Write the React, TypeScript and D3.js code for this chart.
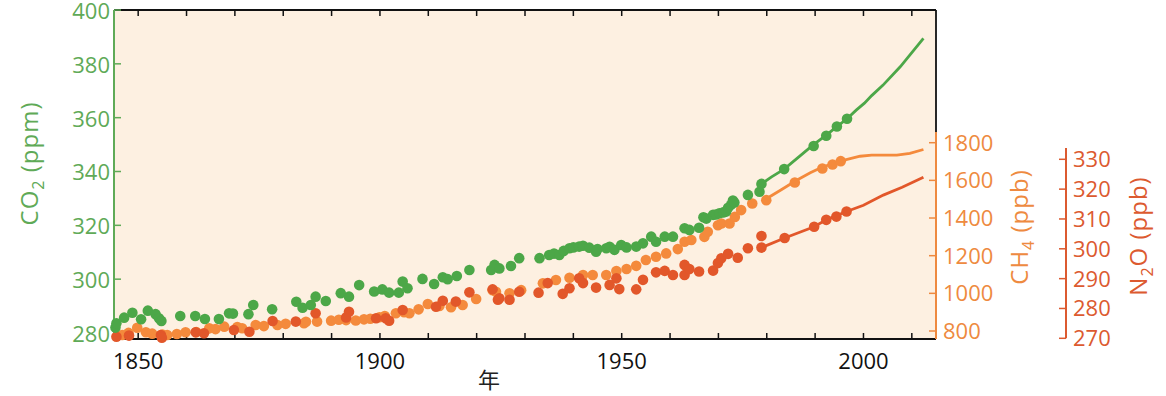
import * as React from "react";
import * as d3 from "d3";

// ice core / firn samples: [year, value]
const co2Ice: [number, number][] = [
  [1845.3, 282.0], [1845.5, 283.6], [1847.1, 285.7], [1848.8, 287.5], [1850.6, 285.1],
  [1852.0, 288.3], [1853.6, 287.0], [1854.3, 285.5], [1854.8, 284.5], [1858.7, 286.3],
  [1861.8, 286.3], [1863.8, 285.2], [1866.7, 285.2], [1868.8, 287.3], [1869.6, 287.2],
  [1872.8, 287.0], [1873.8, 290.4], [1877.7, 288.8], [1882.7, 291.6], [1884.0, 289.4],
  [1885.7, 290.4], [1886.7, 293.5], [1888.8, 291.9], [1891.9, 294.8], [1893.6, 293.5],
  [1895.7, 297.8], [1898.8, 295.4], [1900.5, 296.2], [1901.9, 295.0], [1903.9, 295.0],
  [1904.7, 299.1], [1905.7, 296.6], [1908.8, 300.1], [1911.2, 298.2], [1913.0, 300.7],
  [1914.0, 300.0], [1915.9, 301.2], [1918.5, 303.4], [1923.0, 303.4], [1923.7, 305.3],
  [1924.7, 304.0], [1927.1, 304.9], [1928.8, 307.8], [1933.0, 307.8], [1935.0, 309.0],
  [1936.0, 309.5], [1937.1, 309.0], [1938.0, 310.5], [1939.2, 311.5], [1940.0, 311.8],
  [1941.2, 312.1], [1942.0, 312.4], [1943.3, 311.7], [1944.7, 310.2], [1945.0, 311.2],
  [1946.8, 311.5], [1947.5, 312.0], [1948.5, 310.9], [1949.9, 312.7], [1951.0, 311.8],
  [1953.0, 312.1], [1954.4, 313.3], [1956.1, 315.8], [1957.1, 313.9], [1958.9, 315.8],
  [1960.6, 315.8], [1963.0, 318.9], [1964.0, 318.3], [1966.0, 319.1], [1966.9, 323.0],
  [1967.5, 322.5], [1968.9, 323.9], [1969.5, 324.0], [1970.2, 324.5], [1971.0, 324.8],
  [1971.6, 325.1], [1972.0, 326.5], [1972.6, 327.6], [1973.0, 329.2], [1973.3, 328.5],
  [1976.1, 331.3], [1978.5, 332.5], [1978.9, 335.4], [1983.6, 340.9], [1989.7, 349.5],
  [1992.3, 353.3], [1994.5, 356.7], [1996.6, 359.6],
];

const co2Air: [number, number][] = [
  [1979, 335.5], [1981, 338.0], [1983.6, 340.9], [1986.7, 345.5], [1989.6, 349.9],
  [1992.3, 353.5], [1994.5, 356.7], [1996.6, 359.6], [1998.5, 362.8], [2000.2, 365.4],
  [2001.7, 368.2], [2004.0, 372.0], [2007.6, 378.9], [2012.4, 389.5],
];

const ch4Ice: [number, number][] = [
  [1846.7, 779], [1848.0, 790], [1849.8, 817], [1851.6, 793], [1852.9, 786],
  [1855.0, 781], [1856.0, 779], [1858.0, 784], [1859.8, 793], [1862.0, 795],
  [1864.7, 814], [1866.0, 810], [1867.8, 823], [1870.5, 821], [1871.5, 815],
  [1874.3, 832], [1876.0, 826], [1878.8, 832], [1880.5, 838], [1884.3, 841],
  [1884.7, 849], [1887.0, 850], [1889.9, 855], [1891.5, 860], [1893.0, 858],
  [1895.0, 856], [1896.7, 862], [1898.0, 865], [1899.9, 873], [1901.0, 880],
  [1903.3, 894], [1905.0, 900], [1906.1, 894], [1908.0, 915], [1909.9, 943],
  [1912.3, 933], [1914.7, 926], [1917.1, 938], [1919.9, 970], [1923.3, 1017],
  [1924.0, 1008], [1926.8, 1000], [1929.2, 1017], [1933.7, 1053], [1936.4, 1071],
  [1939.2, 1083], [1942.0, 1097], [1944.0, 1097], [1946.8, 1097], [1948.9, 1118],
  [1951.0, 1129], [1953.0, 1146], [1955.0, 1177], [1957.1, 1194], [1959.2, 1212],
  [1961.6, 1235], [1963.0, 1274], [1964.4, 1283], [1967.1, 1300], [1967.8, 1327],
  [1969.9, 1362], [1970.6, 1371], [1972.3, 1371], [1973.4, 1406], [1974.7, 1442],
  [1977.0, 1477], [1979.9, 1495], [1985.8, 1589], [1991.5, 1663], [1993.6, 1684],
  [1995.3, 1702],
];

const ch4Air: [number, number][] = [
  [1980, 1504], [1983, 1550], [1986, 1598], [1989, 1640], [1991.4, 1670],
  [1995.4, 1703], [1999.3, 1728], [2001.7, 1734], [2006.9, 1734], [2009.6, 1743],
  [2012.4, 1764],
];

const n2oIce: [number, number][] = [
  [1845.5, 270.5], [1848.1, 270.9], [1854.7, 271.1], [1854.9, 270.2], [1861.9, 272.0],
  [1863.6, 271.7], [1869.8, 272.8], [1873.0, 272.2], [1877.8, 275.8], [1882.6, 275.6],
  [1886.7, 278.4], [1893.0, 277.0], [1893.6, 278.9], [1899.2, 276.7], [1901.2, 276.7],
  [1901.9, 275.9], [1904.7, 279.5], [1911.6, 280.6], [1913.0, 282.6], [1915.7, 282.3],
  [1918.5, 285.4], [1923.3, 286.4], [1924.4, 282.9], [1924.7, 283.4], [1926.8, 282.9],
  [1928.8, 285.6], [1932.8, 285.3], [1934.7, 288.5], [1937.8, 284.9], [1939.2, 286.8],
  [1941.2, 290.1], [1942.0, 288.5], [1944.7, 287.0], [1947.5, 287.9], [1948.9, 290.1],
  [1949.5, 286.5], [1953.0, 286.4], [1954.4, 289.6], [1957.1, 292.1], [1958.9, 292.6],
  [1960.6, 291.2], [1963.0, 291.2], [1963.0, 294.6], [1964.0, 293.2], [1966.0, 292.4],
  [1968.9, 292.7], [1969.9, 295.2], [1970.6, 296.8], [1972.0, 298.3], [1974.0, 297.0],
  [1976.1, 300.2], [1978.9, 304.3], [1978.9, 300.4], [1983.7, 303.6], [1989.8, 307.4],
  [1992.3, 309.7], [1994.4, 310.8], [1996.5, 312.5],
];

const n2oAir: [number, number][] = [
  [1978.9, 300.4], [1983.7, 303.6], [1989.8, 307.4], [1992.3, 309.7], [1996.5, 312.5],
  [2000.0, 314.6], [2004.1, 318.0], [2008.0, 320.6], [2012.4, 324.0],
];

const yearTicks = d3.range(1850, 2011, 10);
const yearLabels = [1850, 1900, 1950, 2000];
const co2Ticks = [280, 300, 320, 340, 360, 380, 400];
const ch4Ticks = [800, 1000, 1200, 1400, 1600, 1800];
const n2oTicks = [270, 280, 290, 300, 310, 320, 330];

const GREEN = "#4ca748";
const GREEN_TXT = "#5faa57";
const ORANGE = "#f48a3c";
const ORANGE_TXT = "#ee8a40";
const RED = "#e2572a";
const RED_TXT = "#dc5a30";
const FONT = "'Open Sans', 'Noto Sans', sans-serif";

const left = 114, right = 936, top = 10, bottom = 339;

export default function App() {
  const x = d3.scaleLinear().domain([1845, 2015]).range([left, right]);
  const yCo2 = d3.scaleLinear().domain([280, 400]).range([333, 10]);
  const yCh4 = d3.scaleLinear().domain([800, 1800]).range([331, 142.7]);
  const yN2o = d3.scaleLinear().domain([270, 330]).range([338.3, 159.3]);

  const mk = (y: d3.ScaleLinear<number, number>) =>
    d3.line<[number, number]>().x((d) => x(d[0])).y((d) => y(d[1]));

  const ch4Top = 132;
  const n2oX = 1066;
  const r = 5.3;

  return (
    <svg width={1166} height={396} style={{ position: "absolute", left: 0, top: 0 }} fontFamily={FONT}>
      <rect x={left} y={top} width={right - left} height={bottom - top} fill="#fdf0e1" />

      {/* frame */}
      <line x1={left} x2={right} y1={top} y2={top} stroke="#111" strokeWidth={1.8} />
      <line x1={left} x2={right} y1={bottom} y2={bottom} stroke="#111" strokeWidth={1.8} />
      <line x1={right} x2={right} y1={top} y2={ch4Top} stroke="#111" strokeWidth={1.8} />
      {yearTicks.map((t) => (
        <g key={t}>
          <line x1={x(t)} x2={x(t)} y1={top} y2={top + 6} stroke="#111" strokeWidth={1.5} />
          <line x1={x(t)} x2={x(t)} y1={bottom} y2={bottom - 6} stroke="#111" strokeWidth={1.5} />
        </g>
      ))}
      {yearLabels.map((t) => (
        <text key={t} x={x(t)} y={369} textAnchor="middle" fontSize={22} fill="#111">{t}</text>
      ))}
      <text x={489} y={388} textAnchor="middle" fontSize={22} fill="#222" fontFamily="'Noto Sans CJK SC', sans-serif">年</text>

      {/* CO2 axis */}
      <line x1={left} x2={left} y1={top} y2={bottom} stroke={GREEN_TXT} strokeWidth={2} />
      {co2Ticks.map((t) => (
        <g key={t}>
          <line x1={left} x2={left + 7} y1={yCo2(t)} y2={yCo2(t)} stroke={GREEN_TXT} strokeWidth={1.5} />
          <text x={left - 4} y={yCo2(t) + 1} dy="0.36em" textAnchor="end" fontSize={22} fill={GREEN_TXT}>{t}</text>
        </g>
      ))}
      <text transform="translate(37.5,163.5) rotate(-90)" textAnchor="middle" fontSize={24} letterSpacing={1} fill={GREEN_TXT}>
        CO<tspan fontSize={16} dy={6}>2</tspan><tspan dy={-6}> (ppm)</tspan>
      </text>

      {/* CH4 axis */}
      <line x1={right} x2={right} y1={ch4Top} y2={bottom} stroke={ORANGE_TXT} strokeWidth={2} />
      {ch4Ticks.map((t) => (
        <g key={t}>
          <line x1={right} x2={right - 7} y1={yCh4(t)} y2={yCh4(t)} stroke={ORANGE_TXT} strokeWidth={1.5} />
          <text x={943} y={yCh4(t)} dy="0.36em" fontSize={22} fill={ORANGE_TXT}>{t}</text>
        </g>
      ))}
      <text transform="translate(1028,227) rotate(-90)" textAnchor="middle" fontSize={24} letterSpacing={1} fill={ORANGE_TXT}>
        CH<tspan fontSize={16} dy={6}>4</tspan><tspan dy={-6}> (ppb)</tspan>
      </text>

      {/* N2O axis */}
      <line x1={n2oX} x2={n2oX} y1={148} y2={yN2o(270)} stroke={RED_TXT} strokeWidth={2} />
      {n2oTicks.map((t) => (
        <g key={t}>
          <line x1={n2oX} x2={n2oX - 7} y1={yN2o(t)} y2={yN2o(t)} stroke={RED_TXT} strokeWidth={1.5} />
          <text x={1073} y={yN2o(t)} dy="0.36em" fontSize={22} fill={RED_TXT}>{t}</text>
        </g>
      ))}
      <text transform="translate(1147,236) rotate(-90)" textAnchor="middle" fontSize={24} letterSpacing={1} fill={RED_TXT}>
        N<tspan fontSize={16} dy={6}>2</tspan><tspan dy={-6}>O (ppb)</tspan>
      </text>

      {/* data */}
      <path d={mk(yCh4)(ch4Air) ?? ""} fill="none" stroke={ORANGE} strokeWidth={2.8} />
      <path d={mk(yN2o)(n2oAir) ?? ""} fill="none" stroke={RED} strokeWidth={2.8} />
      <path d={mk(yCo2)(co2Air) ?? ""} fill="none" stroke={GREEN} strokeWidth={2.8} />
      {ch4Ice.map((d, i) => (
        <circle key={"c" + i} cx={x(d[0])} cy={yCh4(d[1])} r={r} fill={ORANGE} />
      ))}
      {n2oIce.map((d, i) => (
        <circle key={"n" + i} cx={x(d[0])} cy={yN2o(d[1])} r={r} fill={RED} />
      ))}
      {co2Ice.map((d, i) => (
        <circle key={"g" + i} cx={x(d[0])} cy={yCo2(d[1])} r={r} fill={GREEN} />
      ))}
    </svg>
  );
}
